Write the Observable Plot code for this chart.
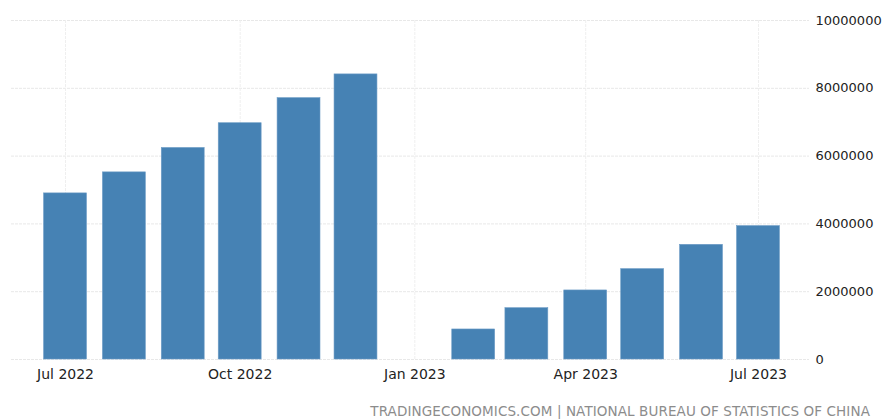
<!DOCTYPE html>
<html>
<head>
<meta charset="utf-8">
<script src="https://cdn.jsdelivr.net/npm/d3@7"></script>
<script src="https://cdn.jsdelivr.net/npm/@observablehq/plot@0.6"></script>
<style>
  html, body { margin: 0; padding: 0; background: #fff; }
  #chart { width: 882px; height: 419px; position: relative; }
  #caption { position: absolute; left: 0; top: 403px; width: 870px; text-align: right;
    font-family: "DejaVu Sans", sans-serif; font-size: 13.5px; color: #8c8c8c; letter-spacing: 0.1px; }
</style>
</head>
<body>
<div id="chart"></div>
<script>
const months = ["2022-07-01","2022-08-01","2022-09-01","2022-10-01","2022-11-01","2022-12-01",
                "2023-02-01","2023-03-01","2023-04-01","2023-05-01","2023-06-01","2023-07-01"];
const values = [4900000, 5520000, 6240000, 6970000, 7710000, 8410000,
                886000, 1514000, 2037000, 2666000, 3383000, 3935000];
const xTicks = ["2022-07-01","2022-10-01","2023-01-01","2023-04-01","2023-07-01"];
const yTicks = [0, 2000000, 4000000, 6000000, 8000000, 10000000];
const caption = "TRADINGECONOMICS.COM | NATIONAL BUREAU OF STATISTICS OF CHINA";

const data = months.map((m, i) => ({date: new Date(m + "T00:00:00Z"), value: values[i]}));
const xTickDates = xTicks.map(t => new Date(t + "T00:00:00Z"));
const halfBar = 11.3 * 24 * 3600 * 1000;

const chart = Plot.plot({
  width: 882,
  height: 400,
  marginLeft: 11,
  marginRight: 73,
  marginTop: 20,
  marginBottom: 41,
  style: {fontFamily: "DejaVu Sans, sans-serif", background: "#fff"},
  x: {type: "utc", domain: [new Date("2022-06-02T13:00:00Z"), new Date("2023-07-27T21:00:00Z")]},
  y: {domain: [0, 10000000]},
  marks: [
    Plot.ruleY(yTicks, {stroke: "#e8e8e8", strokeDasharray: "3,1"}),
    Plot.ruleX(xTickDates, {y1: 0, y2: 10000000, stroke: "#efefef", strokeDasharray: "3,1"}),
    Plot.rectY(data, {
      x1: d => new Date(d.date.getTime() - halfBar),
      x2: d => new Date(d.date.getTime() + halfBar),
      y: "value",
      fill: "#4682b4",
      stroke: "#6d9cc6",
      strokeWidth: 0.6
    }),
    Plot.axisX({ticks: xTickDates, tickFormat: d3.utcFormat("%b %Y"), tickSize: 0, tickPadding: 10,
      fontSize: 14, fill: "#222", label: null}),
    Plot.axisY({anchor: "right", ticks: yTicks, tickFormat: d => String(d), tickSize: 0, tickPadding: 6,
      fontSize: 13, fill: "#222", label: null})
  ]
});
document.getElementById("chart").appendChild(chart);
const cap = document.createElement("div");
cap.id = "caption";
cap.textContent = caption;
document.getElementById("chart").appendChild(cap);
</script>
</body>
</html>
